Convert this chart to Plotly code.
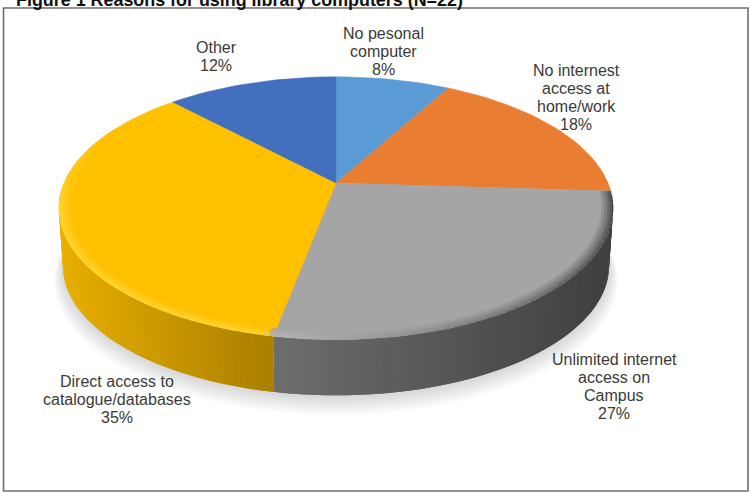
import math
import plotly.graph_objects as go

# Survey results
categories = ["No pesonal<br>computer", "No internest<br>access at<br>home/work",
              "Unlimited internet<br>access on<br>Campus",
              "Direct access to<br>catalogue/databases", "Other"]
values = [8, 18, 27, 35, 12]
colors = ["#5B9BD5", "#E97D31", "#A5A5A5", "#FFC000", "#4270BF"]
label_centers = [(383, 51), (576, 97), (614, 386.5), (117, 399.5), (216, 56)]
title = "Figure 1 Reasons for using library computers (N=22)"

# Pie geometry in page units
CX, CY, RX, RY, PERSP, DEPTH = 336, 183, 272, 126.6, 0.192, 58


def project(r, deg, lift=0.0, shrink=1.0):
    a = math.radians(deg)
    u, v = r * math.sin(a), r * math.cos(a)
    s = shrink / (1 + PERSP * v)
    return CX + RX * u * s, CY - RY * v * s + lift


def mix(c1, c2, t):
    p = [int(c1[i:i + 2], 16) for i in (1, 3, 5)]
    q = [int(c2[i:i + 2], 16) for i in (1, 3, 5)]
    return "#%02x%02x%02x" % tuple(round(a + (b - a) * t) for a, b in zip(p, q))


def poly(pts, fill, width=0.0):
    xs, ys = zip(*pts)
    return go.Scatter(x=list(xs) + [xs[0]], y=list(ys) + [ys[0]], mode="lines",
                      fill="toself", fillcolor=fill,
                      line=dict(color=fill, width=width),
                      hoverinfo="skip", showlegend=False)


# Slice boundaries in degrees, clockwise from 12 o'clock
edges = [0]
for val in values:
    edges.append(edges[-1] + val * 3.6)

fig = go.Figure()

# Soft shadow under the base
for i in range(14):
    grow = 1.018 - i * 0.0026
    pts = [project(1, d, DEPTH + 15 - i * 1.1, grow) for d in range(0, 360, 3)]
    fig.add_trace(poly(pts, "rgba(0,0,0,0.012)"))


def wall_color(x, idx):
    t = (x - 60) / (285 - 60) if idx == 3 else (x - 285) / (612 - 285)
    t = max(0, min(1, t))
    return mix("#E8AF00", "#A67B00", t) if idx == 3 else mix("#6C6C6C", "#3F3F3F", t)


def wall_quad(start, stop):
    return [project(1, start), project(1, stop),
            project(1, stop, DEPTH, 0.985), project(1, start, DEPTH, 0.985)]


# Outer wall, front half only: each strip overlaps the next so no seams appear
step = 1.0
d = 95.0
while d < edges[3] - step:
    fig.add_trace(poly(wall_quad(d, min(d + 2 * step, edges[3])),
                       wall_color(project(1, d + step / 2)[0], 2)))
    d += step
d = 265.0
while d > edges[3] + step:
    fig.add_trace(poly(wall_quad(max(d - 2 * step, edges[3]), d),
                       wall_color(project(1, d - step / 2)[0], 3)))
    d -= step

# Flat top slices
for i, col in enumerate(colors):
    n = max(4, int((edges[i + 1] - edges[i]) / 2))
    arc = [project(1, edges[i] + (edges[i + 1] - edges[i]) * j / n) for j in range(n + 1)]
    fig.add_trace(poly([(CX, CY)] + arc, col, 0.5))


def rim_color(deg, ring):
    # ring runs 0 (inner) to 1 (outer)
    if deg < edges[3]:
        t = max(0, min(1, (deg - 100) / 88))
        edge = mix("#454545", "#B4B4B4", t ** 1.5)
        return mix("#A5A5A5", edge, ring)
    t = max(0, min(1, (295 - deg) / 35))
    edge = mix("#FFC000", "#FFD535", t)
    return mix("#FFC000", edge, ring)


# Bevelled rim along the front edge
rings = [0.96, 0.97, 0.98, 0.988, 0.996, 1.0]
for k in range(len(rings) - 1):
    d = edges[2]
    while d < 296:
        stop = min(d + 3, 296)
        quad = [project(rings[k], d), project(rings[k], stop),
                project(rings[k + 1], stop), project(rings[k + 1], d)]
        fig.add_trace(poly(quad, rim_color(d + 1, (k + 1) / (len(rings) - 1))))
        d += 2

# Category labels, one annotation per text line
annotations = []
LINE = 18
for name, val, (lx, ly) in zip(categories, values, label_centers):
    rows = name.split("<br>") + [f"{val}%"]
    top = ly - LINE * (len(rows) - 1) / 2
    for j, row in enumerate(rows):
        annotations.append(dict(x=lx, y=top + j * LINE, xref="x", yref="y", text=row,
                                showarrow=False, xanchor="center", yanchor="middle",
                                font=dict(family="Liberation Sans", size=16, color="#3A3A3A")))

annotations.append(dict(x=14, y=1.0, xref="x", yref="paper", text=f"<b>{title}</b>",
                        showarrow=False, xanchor="left", yanchor="middle",
                        font=dict(family="Liberation Sans", size=17.9, color="#111111")))

fig.update_layout(
    width=751, height=498, margin=dict(l=0, r=0, t=0, b=0),
    paper_bgcolor="white", plot_bgcolor="white", showlegend=False,
    xaxis=dict(range=[0, 751], visible=False, fixedrange=True),
    yaxis=dict(range=[498, 0], visible=False, fixedrange=True),
    annotations=annotations,
    shapes=[dict(type="rect", x0=3.5, y0=8, x1=748, y1=491,
                 line=dict(color="#6F6F6F", width=1.6), layer="below")],
)
fig.write_html("out.html", config={"displayModeBar": False})
